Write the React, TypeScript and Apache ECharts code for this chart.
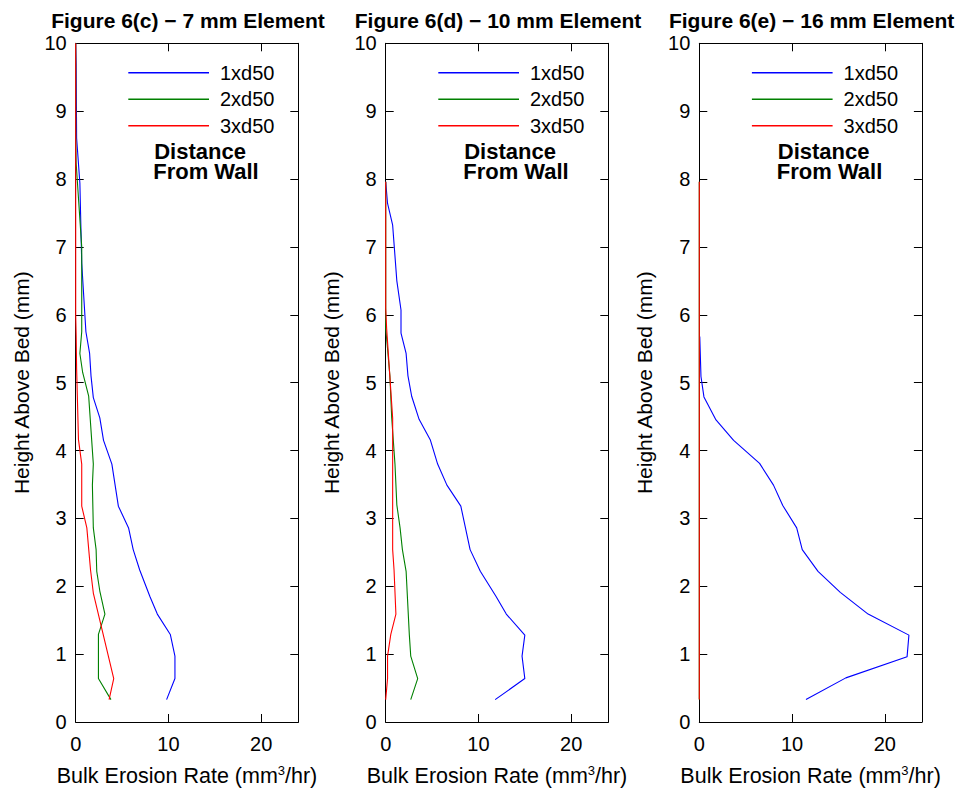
import React, { useEffect, useRef } from "react";
import * as echarts from "echarts";

// ---------- data ----------
const panelTitles = [
  "Figure 6(c) \u2212 7 mm Element",
  "Figure 6(d) \u2212 10 mm Element",
  "Figure 6(e) \u2212 16 mm Element",
];
const seriesNames = ["1xd50", "2xd50", "3xd50"];
const seriesColors = ["#0000ff", "#008000", "#ff0000"];
const xAxisTitle = "Bulk Erosion Rate (mm{sup|3}/hr)";
const yAxisTitle = "Height Above Bed (mm)";
const annotationLines = ["Distance", "From Wall"];
const xMin = 0;
const xMax = 24;
const xStep = 10;
const yMin = 0;
const yMax = 10;
const yStep = 1;

// [erosion rate, height]
// Figure 6(c) - 7 mm
const p7_1xd50 = [[9.8,0.33],[10.7,0.64],[10.7,0.97],[10.2,1.29],[8.8,1.59],[8.0,1.85],[6.9,2.24],[6.2,2.54],[5.7,2.86],[4.6,3.18],[3.9,3.8],[3.0,4.15],[2.6,4.48],[1.9,4.78],[1.65,5.1],[1.5,5.43],[1.1,5.75],[0.65,6.76],[0.45,7.94],[0.1,8.6],[0.05,9.7],[0,10]];
const p7_2xd50 = [[3.8,0.33],[2.45,0.64],[2.45,1.29],[3.15,1.59],[2.6,1.93],[2.27,2.22],[2.2,2.54],[1.9,2.86],[1.8,3.49],[1.9,3.8],[1.4,4.8],[0.75,5.15],[0.45,5.43],[0.65,5.75],[0.65,7.0],[0.05,8.23],[0,8.6],[0,10]];
const p7_3xd50 = [[3.6,0.33],[4.1,0.64],[1.9,1.9],[1.6,2.24],[1.2,2.86],[0.65,3.18],[0.65,3.8],[0.3,4.16],[0.1,5.2],[0.05,5.7],[0,6.0],[0,10]];
// Figure 6(d) - 10 mm
const p10_1xd50 = [[11.8,0.33],[15.0,0.64],[14.7,0.97],[15.0,1.28],[13.0,1.59],[11.9,1.85],[10.2,2.22],[9.1,2.54],[8.1,3.18],[6.6,3.49],[5.6,3.8],[4.8,4.16],[3.6,4.46],[2.8,4.8],[2.4,5.1],[2.2,5.43],[1.65,5.73],[1.65,6.07],[1.2,6.5],[0.75,7.32],[0.2,7.64],[0,7.96]];
const p10_2xd50 = [[2.7,0.33],[3.45,0.64],[2.7,0.97],[2.55,1.28],[2.2,2.22],[1.8,2.54],[1.55,2.86],[1.2,3.2],[1.0,3.8],[0.65,4.48],[0.45,5.1],[0.2,5.5],[0,5.8],[0,7.96]];
const p10_3xd50 = [[0,0.33],[0.2,0.64],[0.2,0.97],[0.55,1.29],[1.1,1.59],[0.9,2.24],[0.75,2.54],[0.75,4.48],[0.4,5.19],[0.1,5.8],[0,6.1],[0,7.96]];
// Figure 6(e) - 16 mm
const p16_1xd50 = [[11.5,0.33],[15.8,0.65],[22.4,0.96],[22.6,1.28],[18.2,1.59],[15.2,1.91],[12.8,2.22],[11.1,2.54],[10.5,2.86],[9.0,3.19],[8.0,3.49],[6.5,3.81],[3.7,4.15],[1.8,4.45],[0.5,4.79],[0.18,5.09],[0.05,5.68]];
const p16_2xd50 = [[0,0.33],[0,7.96]];
const p16_3xd50 = [[0,0.33],[0,7.96]];

const panelData = [
  [p7_1xd50, p7_2xd50, p7_3xd50],
  [p10_1xd50, p10_2xd50, p10_3xd50],
  [p16_1xd50, p16_2xd50, p16_3xd50],
];

// ---------- layout ----------
const FONT = '"Liberation Sans", Arial, Helvetica, sans-serif';
const gridLefts = [75.7, 385.7, 699.3];
const gridWidth = 222.6;
const gridTop = 43.3;
const gridHeight = 679;

export default function App() {
  const ref = useRef<HTMLDivElement>(null);

  useEffect(() => {
    if (!ref.current) return;
    const chart = echarts.init(ref.current, undefined, { renderer: "svg" });

    const grid: any[] = [];
    const xAxis: any[] = [];
    const yAxis: any[] = [];
    const series: any[] = [];
    const legend: any[] = [];
    const graphic: any[] = [];

    const axisLineStyle = { color: "#000", width: 1 };

    panelTitles.forEach((title, i) => {
      grid.push({ left: gridLefts[i], top: gridTop, width: gridWidth, height: gridHeight, containLabel: false });
      // bottom x
      xAxis.push({
        gridIndex: i, type: "value", position: "bottom", min: xMin, max: xMax, interval: xStep,
        axisLine: { show: true, onZero: false, lineStyle: axisLineStyle },
        axisTick: { show: true, inside: true, length: 8, lineStyle: axisLineStyle },
        axisLabel: {
          show: true, margin: 12, fontSize: 20, fontFamily: FONT, color: "#000",
          formatter: (v: number) => (v % xStep === 0 ? String(v) : ""),
        },
        splitLine: { show: false },
        name: xAxisTitle, nameLocation: "middle", nameGap: 42,
        nameTextStyle: {
          fontSize: 21.5, fontFamily: FONT, color: "#000", lineHeight: 24,
          rich: { sup: { fontSize: 13, fontFamily: FONT, color: "#000", verticalAlign: "top", lineHeight: 24 } },
        },
      });
      // top x
      xAxis.push({
        gridIndex: i, type: "value", position: "top", min: xMin, max: xMax, interval: xStep,
        axisLine: { show: true, onZero: false, lineStyle: axisLineStyle },
        axisTick: { show: true, inside: true, length: 8, lineStyle: axisLineStyle },
        axisLabel: { show: false }, splitLine: { show: false },
      });
      // left y
      yAxis.push({
        gridIndex: i, type: "value", position: "left", min: yMin, max: yMax, interval: yStep,
        axisLine: { show: true, onZero: false, lineStyle: axisLineStyle },
        axisTick: { show: true, inside: true, length: 8, lineStyle: axisLineStyle },
        axisLabel: { show: true, margin: 9, fontSize: 20, fontFamily: FONT, color: "#000" },
        splitLine: { show: false },
        name: yAxisTitle, nameLocation: "middle", nameGap: 44,
        nameTextStyle: { fontSize: 21, fontFamily: FONT, color: "#000" },
      });
      // right y
      yAxis.push({
        gridIndex: i, type: "value", position: "right", min: yMin, max: yMax, interval: yStep,
        axisLine: { show: true, onZero: false, lineStyle: axisLineStyle },
        axisTick: { show: true, inside: true, length: 8, lineStyle: axisLineStyle },
        axisLabel: { show: false }, splitLine: { show: false },
      });

      seriesNames.forEach((name, k) => {
        series.push({
          type: "line", name, xAxisIndex: 2 * i, yAxisIndex: 2 * i,
          data: panelData[i][k], showSymbol: false, symbol: "none",
          lineStyle: { color: seriesColors[k], width: 1.1 },
          itemStyle: { color: seriesColors[k] },
          z: 3 + k, silent: true,
        });
      });

      legend.push({
        orient: "vertical", left: gridLefts[i] + 52.6, top: 62.7, padding: 0,
        icon: "rect", itemWidth: 80.7, itemHeight: 1.5, itemGap: 6.5,
        data: seriesNames, selectedMode: false,
        textStyle: { fontSize: 20, fontFamily: FONT, color: "#000", lineHeight: 20, padding: [0, 0, 0, 6] },
      });

      graphic.push({
        type: "text", x: gridLefts[i] + gridWidth / 2 + 1, y: 20,
        style: { text: title, fill: "#000", fontSize: 21, fontWeight: "bold", fontFamily: FONT, align: "center", verticalAlign: "middle" },
      });
      annotationLines.forEach((line, j) => {
        graphic.push({
          type: "text", x: gridLefts[i] + 78.5 - j, y: 151.5 + j * 20,
          style: { text: line, fill: "#000", fontSize: 22, fontWeight: "bold", fontFamily: FONT, align: "left", verticalAlign: "middle" },
        });
      });
    });

    chart.setOption({
      animation: false,
      backgroundColor: "#fff",
      textStyle: { fontFamily: FONT },
      grid, xAxis, yAxis, series, legend, graphic,
    });

    return () => chart.dispose();
  }, []);

  return (
    <div
      ref={ref}
      style={{ position: "fixed", left: 0, top: 0, width: 959, height: 793, background: "#fff" }}
    />
  );
}
